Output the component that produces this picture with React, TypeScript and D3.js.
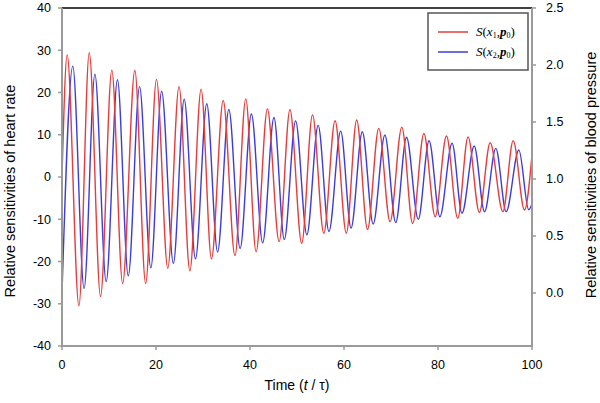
import React from "react";
import * as d3 from "d3";

// Extremum points (time, value)
const redT = [0, 1.1, 3.6, 5.8, 8.2, 10.6, 12.9, 15.5, 17.8, 20.1, 22.5, 24.9, 27.2, 29.6, 31.8, 34.3, 36.8, 39.1, 41.3, 43.7, 46.2, 48.5, 51.0, 53.3, 55.7, 58.1, 60.5, 62.7, 65.0, 67.4, 69.8, 72.3, 74.6, 77.0, 79.4, 81.8, 84.2, 86.4, 88.8, 91.1, 93.8, 96.0, 98.4, 100];
const redV = [0, 28.9, -30.5, 29.4, -28.3, 25.3, -25.2, 25.2, -25.2, 23.1, -21.6, 21.4, -22.2, 20.8, -19.4, 18.1, -18.6, 18.5, -17.7, 16.1, -15.3, 15.9, -15.7, 14.7, -13.3, 13.3, -13.3, 13.5, -12.4, 11.5, -10.6, 11.8, -11.0, 10.3, -9.4, 9.7, -9.8, 9.5, -8.4, 8.1, -8.2, 8.6, -7.8, 5.2];
const blueT = [0, 2.3, 4.7, 7.0, 9.4, 11.8, 14.1, 16.5, 18.9, 21.2, 23.7, 26.0, 28.4, 30.8, 33.1, 35.5, 37.9, 40.3, 42.7, 45.1, 47.3, 49.7, 52.1, 54.5, 56.8, 59.3, 61.5, 63.9, 66.2, 68.7, 71.0, 73.3, 75.8, 78.1, 80.4, 83.0, 85.1, 87.7, 89.9, 92.3, 94.5, 97.2, 99.3, 100];
const blueV = [0.0, 1.99, 0.04, 1.92, 0.10, 1.87, 0.15, 1.81, 0.22, 1.77, 0.26, 1.70, 0.30, 1.66, 0.36, 1.61, 0.39, 1.57, 0.44, 1.54, 0.47, 1.51, 0.51, 1.47, 0.54, 1.42, 0.57, 1.415, 0.605, 1.386, 0.617, 1.366, 0.646, 1.336, 0.669, 1.313, 0.699, 1.289, 0.713, 1.269, 0.713, 1.254, 0.73, 0.78];

const xTicks = [0, 20, 40, 60, 80, 100];
const leftTicks = [-40, -30, -20, -10, 0, 10, 20, 30, 40];
const rightTicks = [0.0, 0.5, 1.0, 1.5, 2.0, 2.5];

const W = 600, H = 403;
const L = 62, R = 532, T = 8, B = 346;
const FONT = "'Liberation Sans', Arial, sans-serif";

export default function App() {
  const x = d3.scaleLinear().domain([0, 100]).range([L, R]);
  const yL = d3.scaleLinear().domain([-40, 40]).range([B, T]);
  const yR = d3.scaleLinear().domain([2.5 - (B - T) / 114, 2.5]).range([B, T]);

  const redPts: [number, number][] = redT.map((t, i) => [t, redV[i]]);
  const bluePts: [number, number][] = blueT.map((t, i) => [t, blueV[i]]);
  const redLine = d3.line<[number, number]>().x(d => x(d[0])).y(d => yL(d[1])).curve(d3.curveMonotoneX);
  const blueLine = d3.line<[number, number]>().x(d => x(d[0])).y(d => yR(d[1])).curve(d3.curveMonotoneX);

  const axisCol = "#9a9a9a";
  return (
    <svg width={W} height={H} style={{ position: "absolute", left: 0, top: 0, background: "#fff" }}>
      <rect x={0} y={0} width={W} height={H} fill="#fff" />
      <path d={blueLine(bluePts) || ""} fill="none" stroke="#3c3cdc" strokeWidth={1.4} />
      <path d={redLine(redPts) || ""} fill="none" stroke="#e63c3c" strokeWidth={1.4} />
      {/* frame */}
      <line x1={L} x2={R} y1={T} y2={T} stroke="#404040" strokeWidth={2} />
      <line x1={L} x2={L} y1={T} y2={B + 1} stroke={axisCol} strokeWidth={2} />
      <line x1={R} x2={R} y1={T} y2={B + 1} stroke={axisCol} strokeWidth={2} />
      <line x1={L} x2={R} y1={B} y2={B} stroke={axisCol} strokeWidth={2} />
      {/* left ticks */}
      {leftTicks.map(v => (
        <g key={"l" + v}>
          <line x1={L - 4} x2={L} y1={yL(v)} y2={yL(v)} stroke={axisCol} strokeWidth={1.5} />
          <text x={51} y={yL(v)} dy="0.35em" textAnchor="end" fontFamily={FONT} fontSize={12.5}>{v}</text>
        </g>
      ))}
      {rightTicks.map(v => (
        <g key={"r" + v}>
          <line x1={R} x2={R + 4} y1={yR(v)} y2={yR(v)} stroke={axisCol} strokeWidth={1.5} />
          <text x={546} y={yR(v)} dy="0.35em" textAnchor="start" fontFamily={FONT} fontSize={12.5}>{v.toFixed(1)}</text>
        </g>
      ))}
      {xTicks.map(v => (
        <g key={"x" + v}>
          <line x1={x(v)} x2={x(v)} y1={B} y2={B + 4} stroke={axisCol} strokeWidth={1.5} />
          <text x={x(v)} y={369} textAnchor="middle" fontFamily={FONT} fontSize={12.5}>{v}</text>
        </g>
      ))}
      {/* axis titles */}
      <text x={297} y={390} textAnchor="middle" fontFamily={FONT} fontSize={14}>
        Time (<tspan fontStyle="italic">t</tspan> / τ)
      </text>
      <text transform={`translate(15,${(T + B) / 2 + 14}) rotate(-90)`} textAnchor="middle" fontFamily={FONT} fontSize={14.5}>
        Relative sensitivities of heart rate
      </text>
      <text transform={`translate(596,${(T + B) / 2 - 2}) rotate(-90)`} textAnchor="middle" fontFamily={FONT} fontSize={14.5}>
        Relative sensitivities of blood pressure
      </text>
      {/* legend */}
      <rect x={428} y={13} width={100} height={57} fill="#fff" stroke="#555" strokeWidth={1.5} />
      <line x1={438} x2={468} y1={32} y2={32} stroke="#e63c3c" strokeWidth={1.5} />
      <line x1={438} x2={468} y1={52} y2={52} stroke="#3c3cdc" strokeWidth={1.5} />
      <text x={476} y={36} fontFamily="'Liberation Serif', 'Times New Roman', serif" fontSize={13}>
        <tspan fontStyle="italic">S</tspan>(<tspan fontStyle="italic">x</tspan><tspan fontSize={8} dy={2}>1</tspan><tspan dy={-2}>,</tspan><tspan fontStyle="italic" fontWeight="bold">p</tspan><tspan fontSize={8} dy={2}>0</tspan><tspan dy={-2}>)</tspan>
      </text>
      <text x={476} y={56} fontFamily="'Liberation Serif', 'Times New Roman', serif" fontSize={13}>
        <tspan fontStyle="italic">S</tspan>(<tspan fontStyle="italic">x</tspan><tspan fontSize={8} dy={2}>2</tspan><tspan dy={-2}>,</tspan><tspan fontStyle="italic" fontWeight="bold">p</tspan><tspan fontSize={8} dy={2}>0</tspan><tspan dy={-2}>)</tspan>
      </text>
    </svg>
  );
}
